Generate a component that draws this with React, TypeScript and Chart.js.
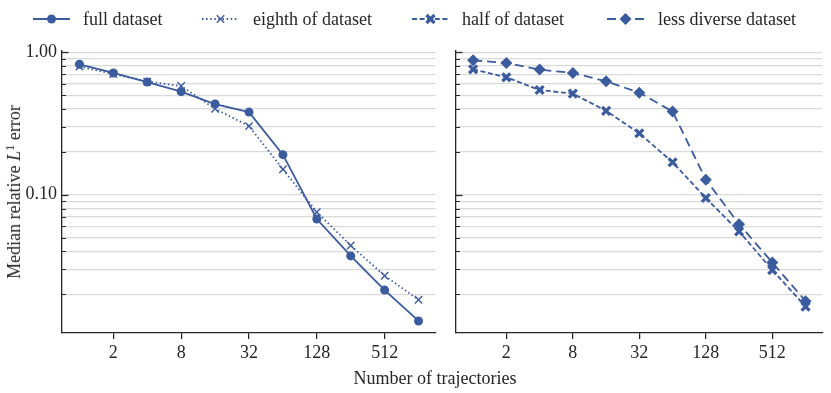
import React, { useEffect, useRef } from 'react';
import { Chart, registerables } from 'chart.js';

Chart.register(...registerables);

// ---------- data ----------
const trajectories = [1, 2, 4, 8, 16, 32, 64, 128, 256, 512, 1024];
const xTickValues = [2, 8, 32, 128, 512];
const yTickValues = [
  0.02, 0.03, 0.04, 0.05, 0.06, 0.07, 0.08, 0.09,
  0.1, 0.2, 0.3, 0.4, 0.5, 0.6, 0.7, 0.8, 0.9, 1.0,
];
const yLabeledTicks = [0.1, 1.0];
const xLimits = [0.7071, 1448.2];
const yLimits = [0.0107, 1.02];

const fullDataset = [0.823, 0.715, 0.618, 0.529, 0.433, 0.38, 0.191, 0.0675, 0.0372, 0.0214, 0.013];
const eighthDataset = [0.793, 0.703, 0.622, 0.579, 0.401, 0.303, 0.151, 0.0755, 0.044, 0.027, 0.0183];
const halfDataset = [0.759, 0.667, 0.543, 0.512, 0.388, 0.27, 0.169, 0.0948, 0.0552, 0.0296, 0.0164];
const lessDiverseDataset = [0.878, 0.841, 0.755, 0.715, 0.625, 0.52, 0.384, 0.1275, 0.0621, 0.0334, 0.0179];

const seriesNames = ['full dataset', 'eighth of dataset', 'half of dataset', 'less diverse dataset'];
const xTitle = 'Number of trajectories';

// ---------- styles ----------
const BLUE = '#3b5b9f';
const INK = '#262626';
const GRID = '#d9d9d9';
const FONT = '"Liberation Serif", "Times New Roman", serif';

type SeriesStyle = {
  dash: number[];
  marker: 'circle' | 'x' | 'X' | 'diamond';
};
const styles: SeriesStyle[] = [
  { dash: [], marker: 'circle' },
  { dash: [1.5, 2.6], marker: 'x' },
  { dash: [5, 2.6], marker: 'X' },
  { dash: [9, 5], marker: 'diamond' },
];

function pointOpts(marker: SeriesStyle['marker']) {
  switch (marker) {
    case 'circle':
      return { pointStyle: 'circle', pointRadius: 4.5, pointBorderWidth: 0 };
    case 'x':
      return { pointStyle: 'crossRot', pointRadius: 5.2, pointBorderWidth: 1.4 };
    case 'X':
      return { pointStyle: 'crossRot', pointRadius: 5.6, pointBorderWidth: 3.2 };
    default:
      return { pointStyle: 'rectRot', pointRadius: 6, pointBorderWidth: 0 };
  }
}

function makeDataset(idx: number, values: number[]) {
  const s = styles[idx];
  return {
    label: seriesNames[idx],
    data: trajectories.map((t, i) => ({ x: t, y: values[i] })),
    borderColor: BLUE,
    backgroundColor: BLUE,
    pointBackgroundColor: BLUE,
    pointBorderColor: BLUE,
    borderWidth: 1.8,
    borderDash: s.dash,
    tension: 0,
    fill: false,
    ...pointOpts(s.marker),
  };
}

const inwardTicks = {
  id: 'inwardTicks',
  beforeDatasetsDraw(chart: any) {
    const y = chart.scales.y;
    const ctx = chart.ctx;
    const left = chart.chartArea.left;
    ctx.save();
    ctx.strokeStyle = INK;
    for (const t of y.ticks) {
      const major = yLabeledTicks.some((v) => Math.abs(v - t.value) < 1e-9);
      const py = Math.round(y.getPixelForValue(t.value)) + 0.5;
      ctx.lineWidth = major ? 1.25 : 1;
      ctx.beginPath();
      ctx.moveTo(left, py);
      ctx.lineTo(left + (major ? 6.5 : 4), py);
      ctx.stroke();
    }
    ctx.restore();
  },
};

function Panel({ datasets, showYLabels, yWidth, padRight, width }: any) {
  const ref = useRef<HTMLCanvasElement | null>(null);
  useEffect(() => {
    if (!ref.current) return;
    const font = { family: FONT, size: 18 };
    const chart = new Chart(ref.current, {
      type: 'line',
      data: { datasets },
      options: {
        animation: false,
        responsive: false,
        devicePixelRatio: 1,
        layout: { padding: { top: 51, right: padRight, left: 0, bottom: 0 } },
        plugins: { legend: { display: false }, tooltip: { enabled: false } },
        scales: {
          x: {
            type: 'logarithmic',
            min: xLimits[0],
            max: xLimits[1],
            afterBuildTicks: (s: any) => {
              s.ticks = xTickValues.map((v) => ({ value: v }));
            },
            afterFit: (s: any) => {
              s.height = 60;
            },
            grid: { drawOnChartArea: false, drawTicks: true, tickLength: 6, color: INK, lineWidth: 1.25 },
            border: { display: true, color: INK, width: 1.3 },
            ticks: {
              autoSkip: false,
              maxRotation: 0,
              padding: 3,
              font,
              color: INK,
              callback: (v: any) => String(v),
            },
          },
          y: {
            type: 'logarithmic',
            min: yLimits[0],
            max: yLimits[1],
            afterBuildTicks: (s: any) => {
              s.ticks = yTickValues.map((v) => ({ value: v }));
            },
            afterFit: (s: any) => {
              s.width = yWidth;
            },
            grid: { color: GRID, lineWidth: 1.2, drawTicks: false },
            border: { display: true, color: INK, width: 1.3 },
            ticks: {
              display: showYLabels,
              autoSkip: false,
              padding: 5,
              font,
              color: INK,
              callback: (v: any) =>
                yLabeledTicks.some((t) => Math.abs(t - v) < 1e-9) ? Number(v).toFixed(2) : '',
            },
          },
        },
      } as any,
      plugins: [inwardTicks],
    });
    return () => chart.destroy();
  }, []);
  return (
    <canvas
      ref={ref}
      width={width}
      height={393}
      style={{ width, height: 393, display: 'block' }}
    />
  );
}

function LegendIcon({ style }: { style: SeriesStyle }) {
  const w = 37;
  const h = 20;
  const cy = h / 2;
  const cx = w / 2;
  let marker: any = null;
  if (style.marker === 'circle') marker = <circle cx={cx} cy={cy} r={4.5} fill={BLUE} />;
  else if (style.marker === 'x')
    marker = (
      <g stroke={BLUE} strokeWidth={1.4}>
        <line x1={cx - 3.7} y1={cy - 3.7} x2={cx + 3.7} y2={cy + 3.7} />
        <line x1={cx - 3.7} y1={cy + 3.7} x2={cx + 3.7} y2={cy - 3.7} />
      </g>
    );
  else if (style.marker === 'X')
    marker = (
      <g stroke={BLUE} strokeWidth={3.2}>
        <line x1={cx - 4} y1={cy - 4} x2={cx + 4} y2={cy + 4} />
        <line x1={cx - 4} y1={cy + 4} x2={cx + 4} y2={cy - 4} />
      </g>
    );
  else
    marker = (
      <polygon
        points={`${cx - 6},${cy} ${cx},${cy - 6} ${cx + 6},${cy} ${cx},${cy + 6}`}
        fill={BLUE}
      />
    );
  return (
    <svg width={w} height={h} style={{ display: 'block' }}>
      <line
        x1={0}
        y1={cy}
        x2={w}
        y2={cy}
        stroke={BLUE}
        strokeWidth={1.8}
        strokeDasharray={style.dash.length ? style.dash.join(' ') : undefined}
      />
      {marker}
    </svg>
  );
}

const legendPlacement = [
  { icon: 33, text: 83 },
  { icon: 202, text: 253 },
  { icon: 412, text: 462 },
  { icon: 607, text: 658 },
];

export default function App() {
  const leftSets = [makeDataset(0, fullDataset), makeDataset(1, eighthDataset)];
  const rightSets = [makeDataset(2, halfDataset), makeDataset(3, lessDiverseDataset)];
  const textStyle: React.CSSProperties = {
    position: 'absolute',
    fontFamily: FONT,
    fontSize: 18,
    color: INK,
    whiteSpace: 'nowrap',
    lineHeight: 1,
  };
  return (
    <div
      style={{
        position: 'absolute',
        left: 0,
        top: 0,
        width: 831,
        height: 393,
        background: '#fff',
        overflow: 'hidden',
      }}
    >
      <div style={{ position: 'absolute', left: 0, top: 0 }}>
        <Panel datasets={leftSets} showYLabels={true} yWidth={62} padRight={9.5} width={445} />
      </div>
      <div style={{ position: 'absolute', left: 445, top: 0 }}>
        <Panel datasets={rightSets} showYLabels={false} yWidth={11} padRight={1.5} width={386} />
      </div>
      {legendPlacement.map((p, i) => (
        <React.Fragment key={i}>
          <div style={{ position: 'absolute', left: p.icon, top: 9 }}>
            <LegendIcon style={styles[i]} />
          </div>
          <div style={{ ...textStyle, left: p.text, top: 19, transform: 'translateY(-50%)' }}>
            {seriesNames[i]}
          </div>
        </React.Fragment>
      ))}
      <div style={{ ...textStyle, left: 435, top: 378, transform: 'translate(-50%, -50%)' }}>
        {xTitle}
      </div>
      <div
        style={{
          ...textStyle,
          left: 14,
          top: 192,
          transform: 'translate(-50%, -50%) rotate(-90deg)',
        }}
      >
        Median relative <i>L</i>
        <span style={{ fontSize: '0.7em', position: 'relative', top: '-0.5em' }}>1</span> error
      </div>
    </div>
  );
}
